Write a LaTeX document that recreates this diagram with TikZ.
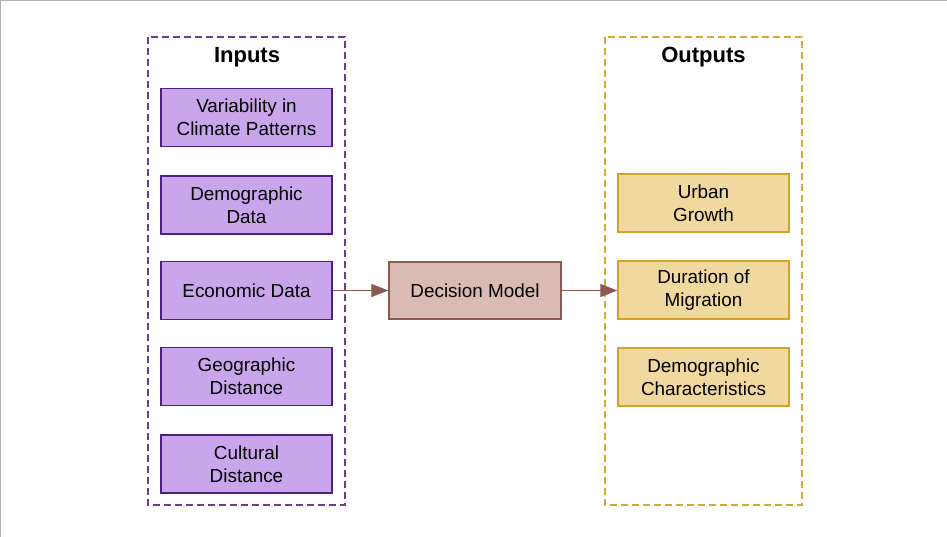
\documentclass[tikz,border=0pt]{standalone}
\usepackage{fontspec}
\setmainfont{Liberation Sans}
\usetikzlibrary{arrows.meta}
\definecolor{inFill}{HTML}{C9A6EB}
\definecolor{inDraw}{HTML}{4F1F80}
\definecolor{inDash}{HTML}{6B3D96}
\definecolor{outFill}{HTML}{F0D99E}
\definecolor{outDraw}{HTML}{D4A12A}
\definecolor{outDash}{HTML}{DAA830}
\definecolor{decFill}{HTML}{D9BBB3}
\definecolor{decDraw}{HTML}{8B5A50}
\tikzset{
  inbox/.style={draw=inDraw, fill=inFill, line width=1.3pt, minimum width=171pt, minimum height=58pt, align=center, font=\fontsize{18.9}{23}\selectfont, inner sep=0pt},
  outbox/.style={draw=outDraw, fill=outFill, line width=1.3pt, minimum width=171pt, minimum height=58pt, align=center, font=\fontsize{18.9}{23}\selectfont, inner sep=0pt},
  decbox/.style={draw=decDraw, fill=decFill, line width=1.3pt, minimum width=172pt, minimum height=57pt, align=center, font=\fontsize{18.9}{23}\selectfont, inner sep=0pt},
  grp/.style={dashed, dash pattern=on 7pt off 4pt, line width=1.5pt},
  title/.style={font=\fontsize{22}{26}\selectfont\bfseries},
  conn/.style={draw=decDraw, line width=1.2pt, -{Triangle[length=17pt, width=13pt]}}
}
\begin{document}
\begin{tikzpicture}[x=1pt, y=-1pt]
\useasboundingbox (0,0) rectangle (947,537);
\draw[gray!60, line width=1.5pt] (0.7,537) -- (0.7,0.7) -- (947,0.7);
\draw[grp, draw=inDash] (148,37) rectangle (345,505);
\draw[grp, draw=outDash] (605,37) rectangle (802,505);
\node[title] (tin) at (247,57) {Inputs};
\node[title] (tout) at (703.5,57) {Outputs};
\node[inbox] (i1) at (246.5,117.5) {Variability in\\Climate Patterns};
\node[inbox] (i2) at (246.5,205) {Demographic\\Data};
\node[inbox] (i3) at (246.5,290.5) {Economic Data};
\node[inbox] (i4) at (246.5,376.5) {Geographic\\Distance};
\node[inbox] (i5) at (246.5,464) {Cultural\\Distance};
\node[decbox] (dm) at (475,290.5) {Decision Model};
\node[outbox] (o1) at (703.5,203) {Urban\\Growth};
\node[outbox] (o2) at (703.5,290) {Duration of\\Migration};
\node[outbox] (o3) at (703.5,377) {Demographic\\Characteristics};
\draw[conn] (i3) -- (dm);
\draw[conn] (dm) -- (o2.west |- dm.east);
\end{tikzpicture}
\end{document}
